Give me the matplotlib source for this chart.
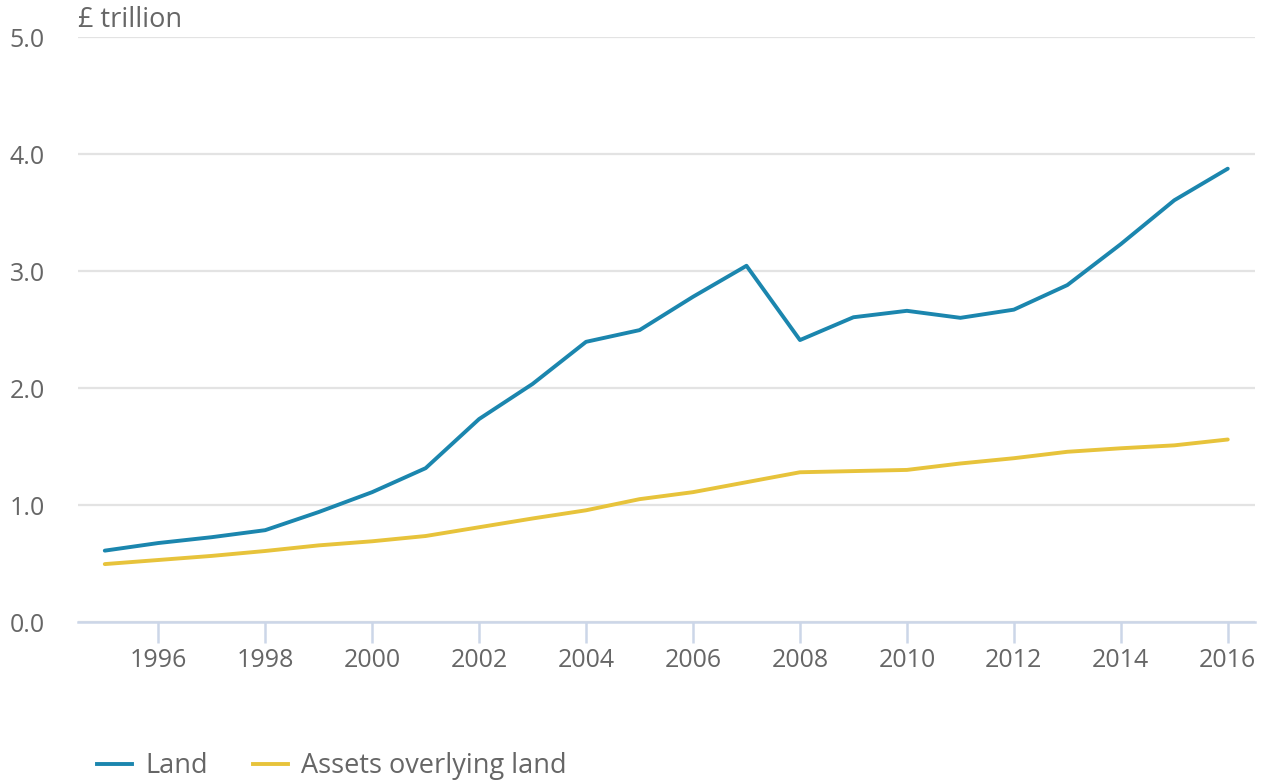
import matplotlib.pyplot as plt
from matplotlib.lines import Line2D

plt.rcParams['font.family'] = ['Open Sans', 'DejaVu Sans']

# 연도별 데이터 (£ trillion)
years = list(range(1995, 2017))
land = [0.61, 0.675, 0.725, 0.785, 0.94, 1.11, 1.315, 1.735, 2.035, 2.395,
        2.495, 2.78, 3.045, 2.41, 2.605, 2.66, 2.60, 2.67, 2.88, 3.23,
        3.605, 3.875]
assets = [0.495, 0.53, 0.565, 0.607, 0.655, 0.69, 0.735, 0.81, 0.885, 0.955,
          1.05, 1.11, 1.195, 1.28, 1.29, 1.30, 1.355, 1.40, 1.455, 1.485,
          1.51, 1.56]
series_names = ['Land', 'Assets overlying land']
colors = ['#1b86ae', '#e7c33b']

yticks = [0, 1, 2, 3, 4, 5]
xticks = list(range(1996, 2017, 2))

text_color = '#666666'
tick_fs = 18
label_fs = 19.5

fig = plt.figure(figsize=(12.65, 7.82), dpi=100)
ax = fig.add_axes([0.0617, 0.2046, 0.930, 0.748])

ax.plot(years, land, color=colors[0], lw=2.8, solid_capstyle='round', zorder=3)
ax.plot(years, assets, color=colors[1], lw=2.8, solid_capstyle='round', zorder=3)

ax.set_xlim(1994.5, 2016.5)
ax.set_ylim(0, 5)
ax.set_yticks(yticks)
ax.set_yticklabels([f'{v:.1f}' for v in yticks])
ax.set_xticks(xticks)
ax.set_xticklabels([str(y) for y in xticks])

# 격자선
ax.grid(axis='y', color='#e3e3e3', lw=1.6, zorder=0)
ax.grid(axis='x', visible=False)
for s in ['top', 'right', 'left']:
    ax.spines[s].set_visible(False)
ax.spines['bottom'].set_color('#ccd6e8')
ax.spines['bottom'].set_linewidth(1.8)
ax.spines['bottom'].set_zorder(4)

ax.tick_params(axis='y', length=0, pad=24, labelsize=tick_fs, labelcolor=text_color)
ax.tick_params(axis='x', length=15, width=1.8, color='#ccd6e8', pad=3.5,
               labelsize=tick_fs, labelcolor=text_color)

fig.text(78 / 1265, 1 - 20 / 782, '£ trillion', fontsize=label_fs, color=text_color,
         ha='left', va='center')

# 범례
handles = [Line2D([], [], color=c, lw=2.8) for c in colors]
fig.legend(handles, series_names, loc='center left',
           bbox_to_anchor=(97 / 1265, 1 - 766 / 782), ncol=2, frameon=False,
           fontsize=label_fs, labelcolor=text_color, handlelength=1.3,
           handletextpad=0.48, columnspacing=1.65, borderpad=0,
           borderaxespad=0)

fig.savefig('out.png', dpi=100)
